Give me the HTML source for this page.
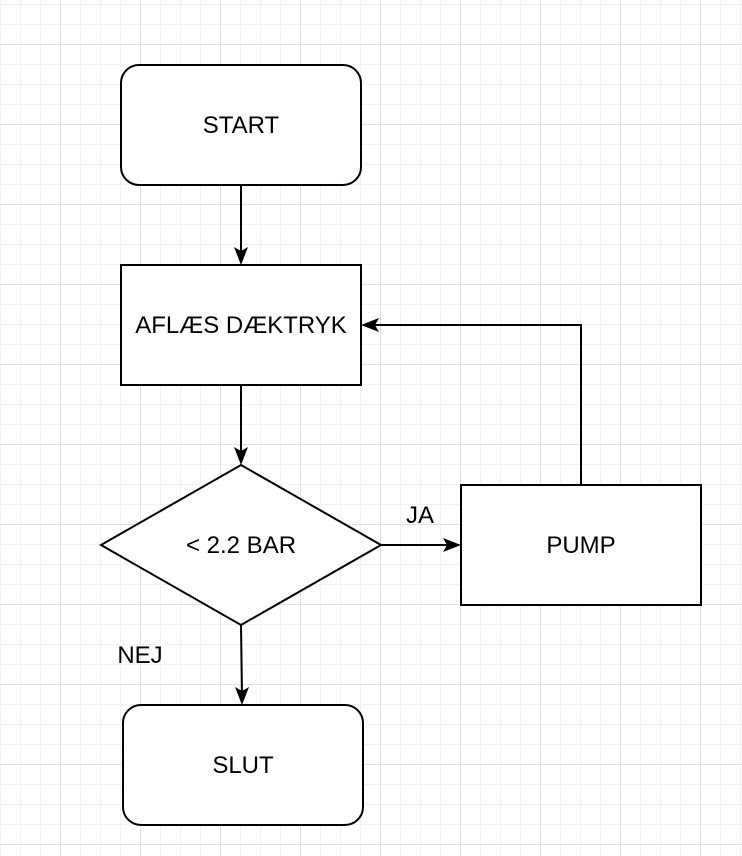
<!DOCTYPE html>
<html><head><meta charset="utf-8"><style>
html,body{margin:0;padding:0;background:#fff;}
svg{display:block;}
text{font-family:"Liberation Sans",Helvetica,Arial,sans-serif;font-size:24px;fill:#000;}
</style></head><body>
<svg width="742" height="856" viewBox="0 0 742 856" xmlns="http://www.w3.org/2000/svg">
<defs>
<pattern id="minor" width="20" height="20" patternUnits="userSpaceOnUse" x="0" y="4">
<path d="M0 0H20M0 0V20" stroke="#f2f2f2" stroke-width="2" fill="none"/>
</pattern>
<pattern id="major" width="80" height="80" patternUnits="userSpaceOnUse" x="60" y="44">
<path d="M0 0H80M0 0V80" stroke="#e2e2e2" stroke-width="2" fill="none"/>
</pattern>
</defs>
<rect width="742" height="856" fill="url(#minor)"/>
<rect width="742" height="856" fill="url(#major)"/>
<g stroke="#000" stroke-width="2" fill="#fff">
<rect x="121" y="65" width="240" height="120" rx="18"/>
<rect x="121" y="265" width="240" height="120"/>
<polygon points="241,465 381,545 241,625 101,545"/>
<rect x="461" y="485" width="240" height="120"/>
<rect x="123" y="705" width="240" height="120" rx="18"/>
</g>
<g stroke="#000" stroke-width="2" fill="none">
<path d="M241 185V255"/>
<path d="M241 385V455"/>
<path d="M381 545H451"/>
<path d="M581 485V325H371"/>
<path d="M241 625L242 695"/>
</g>
<g fill="#000">
<path d="M241 265L234 247L241 251L248 247Z"/>
<path d="M241 465L234 447L241 451L248 447Z"/>
<path d="M461 545L443 538L447 545L443 552Z"/>
<path d="M361 325L379 318L375 325L379 332Z"/>
<path d="M242 705L235 687L242 691L249 687Z"/>
</g>
<text x="241" y="133" text-anchor="middle">START</text>
<text x="241" y="333" text-anchor="middle">AFLÆS DÆKTRYK</text>
<text x="241" y="553" text-anchor="middle">&lt; 2.2 BAR</text>
<text x="581" y="553" text-anchor="middle">PUMP</text>
<text x="243" y="773" text-anchor="middle">SLUT</text>
<text x="420" y="523" text-anchor="middle">JA</text>
<text x="140" y="663" text-anchor="middle">NEJ</text>
</svg>
</body></html>
